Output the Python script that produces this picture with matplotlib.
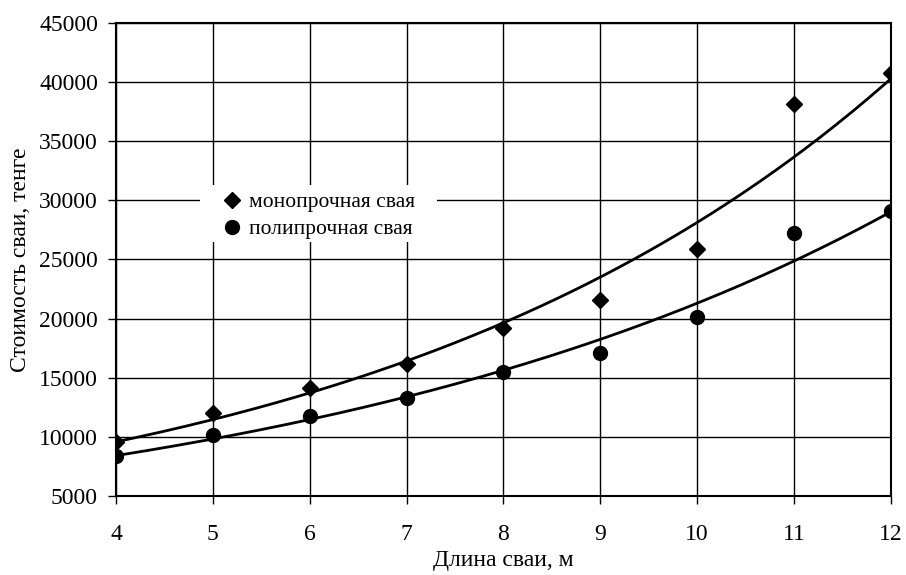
import numpy as np
import matplotlib
matplotlib.use("Agg")
import matplotlib.pyplot as plt
from matplotlib.lines import Line2D
from matplotlib.patches import Rectangle

plt.rcParams['font.family'] = ['Liberation Serif', 'DejaVu Serif']
plt.rcParams['font.size'] = 17

# длина сваи, м
length = [4, 5, 6, 7, 8, 9, 10, 11, 12]
# стоимость, тенге
mono_cost = [9550, 12000, 14100, 16200, 19200, 21600, 25850, 38150, 40750]
poly_cost = [8350, 10150, 11750, 13250, 15450, 17100, 20150, 27250, 29100]

x_ticks = [4, 5, 6, 7, 8, 9, 10, 11, 12]
y_ticks = [5000, 10000, 15000, 20000, 25000, 30000, 35000, 40000, 45000]


def exp_trend(x, y):
    # exponential trend line like in Excel: y = a*exp(b*x)
    b, ln_a = np.polyfit(x, np.log(y), 1)
    xs = np.linspace(min(x), max(x), 200)
    return xs, np.exp(ln_a) * np.exp(b * xs)


fig = plt.figure(figsize=(9.06, 5.75), dpi=100)
ax = fig.add_axes([0.128, 0.1374, 0.8554, 0.8226])

ax.set_axisbelow(True)
ax.grid(True, color='black', lw=1.0)

ax.plot(length, mono_cost, 'D', color='black', ms=8.5, zorder=3)
ax.plot(length, poly_cost, 'o', color='black', ms=10, zorder=3)

for y in (mono_cost, poly_cost):
    xs, ys = exp_trend(np.array(length), np.array(y))
    ax.plot(xs, ys, '-', color='black', lw=2, zorder=2)

ax.set_xlim(4, 12)
ax.set_ylim(5000, 45000)
ax.set_xticks(x_ticks)
ax.set_yticks(y_ticks)
ax.tick_params(direction='out', length=6, width=1, colors='black')
ax.tick_params(axis='y', pad=7)
ax.tick_params(axis='x', pad=14)
for side in ax.spines.values():
    side.set_linewidth(1.5)
    side.set_color('black')

ax.set_xlabel('Длина сваи, м', labelpad=4)
ax.set_ylabel('Стоимость сваи, тенге', labelpad=6)

# white box under the legend, wider than the legend itself
ax.add_patch(Rectangle((0.108, 0.537), 0.306, 0.1205, transform=ax.transAxes,
                       facecolor='white', edgecolor='none', zorder=2.5))

handles = [
    Line2D([], [], marker='D', color='black', ls='none', ms=8.5),
    Line2D([], [], marker='o', color='black', ls='none', ms=10),
]
leg = ax.legend(handles, ['монопрочная свая', 'полипрочная свая'],
                loc='upper left', bbox_to_anchor=(0.142, 0.642),
                frameon=False, fontsize=15.5, handlelength=0.6,
                handletextpad=0.45, borderpad=0, labelspacing=0.32,
                borderaxespad=0)
leg.set_zorder(5)

fig.savefig('out.png', dpi=100)
